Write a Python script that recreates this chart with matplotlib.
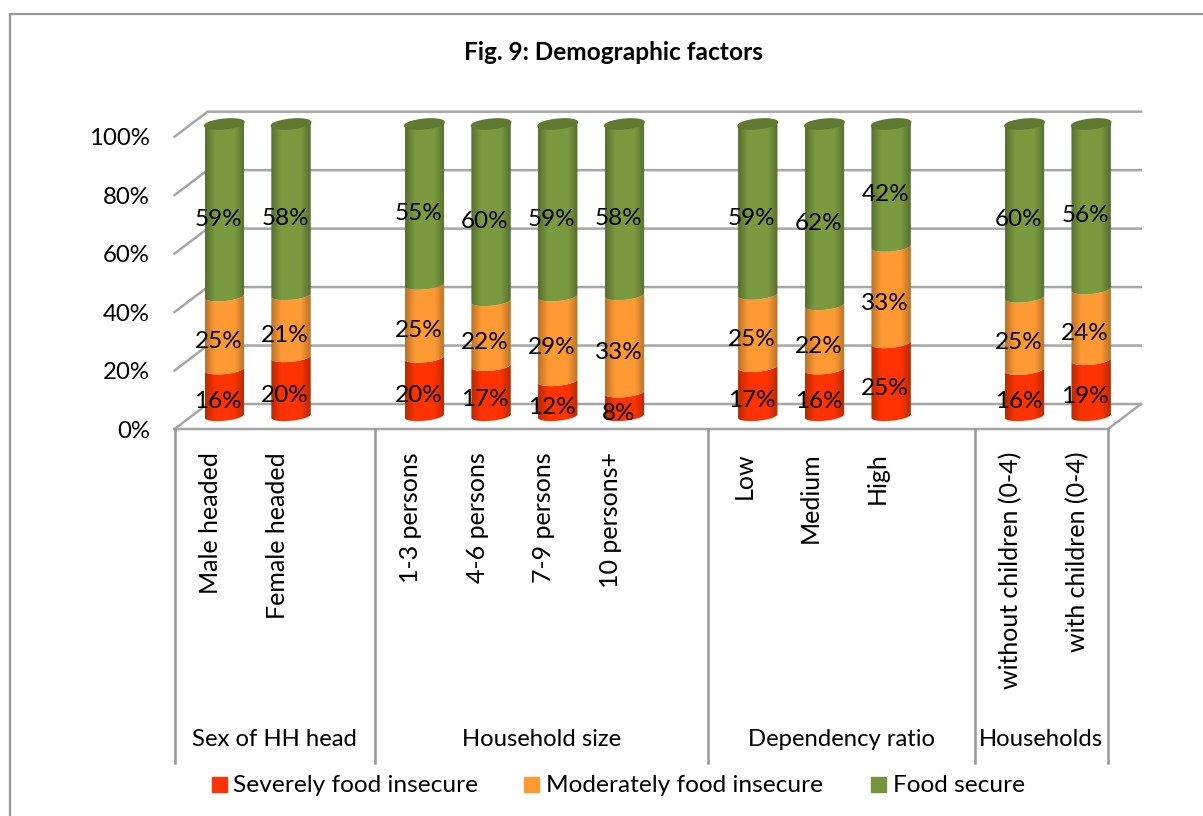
import numpy as np
import matplotlib
matplotlib.use('Agg')
import matplotlib.pyplot as plt
from matplotlib.colors import LinearSegmentedColormap
from matplotlib.patches import PathPatch, Rectangle
from matplotlib.path import Path

plt.rcParams['font.family'] = ['Lato', 'DejaVu Sans']

W, H = 1203, 816

categories = ['Male headed', 'Female headed',
              '1-3 persons', '4-6 persons', '7-9 persons', '10 persons+',
              'Low', 'Medium', 'High',
              'without children (0-4)', 'with children (0-4)']
slots = [0, 1, 3, 4, 5, 6, 8, 9, 10, 12, 13]
severe = [16, 20, 20, 17, 12, 8, 17, 16, 25, 16, 19]
moderate = [25, 21, 25, 22, 29, 33, 25, 22, 33, 25, 24]
secure = [59, 58, 55, 60, 59, 58, 59, 62, 42, 60, 56]
groups = ['Sex of HH head', 'Household size', 'Dependency ratio', 'Households']
group_edges = [0, 3, 8, 12, 14]
series_names = ['Severely food insecure', 'Moderately food insecure', 'Food secure']
yticks = [0, 20, 40, 60, 80, 100]

dark = {0: '#b52a00', 1: '#b9722a', 2: '#566f30'}
mid = {0: '#ff3300', 1: '#ff9933', 2: '#7b9a40'}
legend_col = ['#ff3300', '#ff9933', '#77933c']
top_col = '#5f7a30'
grid_col = '#a6a6a6'

fig = plt.figure(figsize=(W / 100, H / 100), dpi=100)
# axes = front plane of the 3d box
ax = fig.add_axes([174.5 / W, 1 - 429 / H, 933.5 / W, 292.3 / H])
ax.set_xlim(0, 14)
ax.set_ylim(0, 100)
ax.axis('off')

px_x = 14 / 933.5
px_y = 100 / 292.3
dx, dy = 33 * px_x, 25 * px_y
lw = 1.8

# outer chart border, runs off the right and the bottom of the picture
fig.add_artist(plt.Line2D([9.5 / W, 9.5 / W, 1], [0, 1 - 13.5 / H, 1 - 13.5 / H],
                          color='#969696', lw=1.6))

# walls and floor
for v in yticks:
    ax.plot([0, dx, 14 + dx], [v, v + dy, v + dy], color=grid_col, lw=lw,
            clip_on=False, zorder=1)
ax.plot([0, 14, 14 + dx], [0, 0, dy], color=grid_col, lw=lw, clip_on=False, zorder=1)

# axis labels
for v in yticks:
    ax.text(-24.5 * px_x, v - 2 * px_y, '%d%%' % v, ha='right', va='center', fontsize=17.3)

# group separators running down under the plot
bottom = -(763 - 429) * px_y
for e in group_edges:
    ax.plot([e, e], [0, bottom], color='#969696', lw=lw, clip_on=False, zorder=1)

for i in range(len(groups)):
    ax.text((group_edges[i] + group_edges[i + 1]) / 2, -(740 - 429) * px_y, groups[i],
            ha='center', va='center', fontsize=17.2)

for s, name in zip(slots, categories):
    ax.text(s + 0.5 + 0.04, -(452 - 429) * px_y, name, rotation=90, ha='center', va='top',
            fontsize=18)


def ring(cx, cy, a, b, tilt, t0, t1, n=40):
    t = np.linspace(t0, t1, n)
    return np.column_stack([cx + a * np.cos(t), cy + b * np.sin(t) + tilt * np.cos(t)])


a = 19.7 * px_x
b = 4.8 * px_y
tilt = 1.8 * px_y
base = 13 * px_y
scale = 292 / 292.3
shade = np.linspace(0, 1, 64)[None, :]

for k, s in enumerate(slots):
    cx = s + 0.5 + dx / 2
    vals = [severe[k], moderate[k], secure[k]]
    total = sum(vals)
    start = 0
    for j, v in enumerate(vals):
        y0 = base + start / total * 100 * scale
        y1 = base + (start + v) / total * 100 * scale
        lower = ring(cx, y0, a, b, tilt, np.pi, 2 * np.pi)
        if j < 2:
            upper = ring(cx, y1, a, b, tilt, 2 * np.pi, np.pi)
        else:
            upper = ring(cx, y1, a, b, tilt, 0, np.pi)
        verts = np.vstack([lower, upper, lower[:1]])
        cmap = LinearSegmentedColormap.from_list('c', [dark[j], mid[j], mid[j], mid[j], dark[j]])
        im = ax.imshow(shade, cmap=cmap, aspect='auto',
                       extent=[cx - a, cx + a, y0 - b * 2, y1 + b * 2], zorder=3 + j * 0.1)
        patch = PathPatch(Path(verts), transform=ax.transData, fc='none', ec='none')
        ax.add_patch(patch)
        im.set_clip_path(patch)
        # image would stop at the axes box otherwise, the columns stand above it
        im.set_clip_box(fig.bbox)
        ax.text(cx - 6 * px_x, (y0 + y1) / 2 - 9 * px_y, '%d%%' % v, ha='center', va='center',
                fontsize=17.5, zorder=6)
        start += v
    # top cap of the column
    cap = ring(cx, base + 100 * scale, a, b, tilt, 0, 2 * np.pi)
    ax.fill(cap[:, 0], cap[:, 1], color=top_col, zorder=4, clip_on=False)

ax.set_xlim(0, 14)
ax.set_ylim(0, 100)

# title
fig.text(613 / W, 1 - 52 / H, 'Fig. 9: Demographic factors', ha='center', va='center',
         fontsize=17.6, fontweight='bold')

# legend, placed by hand
leg_x = [212, 524, 871]
text_x = [233, 546, 893]
for j in range(3):
    fig.add_artist(Rectangle((leg_x[j] / W, 1 - 792 / H), 15 / W, 15 / H, color=legend_col[j],
                             transform=fig.transFigure))
    fig.text(text_x[j] / W, 1 - 786 / H, series_names[j], ha='left', va='center', fontsize=17.6)

fig.savefig('out.png', dpi=100)
